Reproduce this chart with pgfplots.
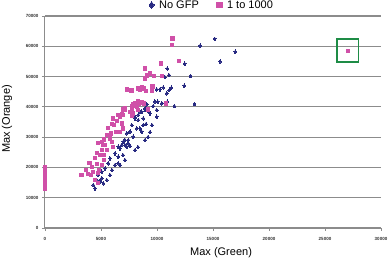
\documentclass[border=0pt]{standalone}
\usepackage{fontspec}
\setmainfont{Liberation Sans}
\usepackage{pgfplots}
\usepackage{pgfplotstable}
\pgfplotsset{compat=1.18}
\definecolor{nogfp}{RGB}{40,42,130}
\definecolor{pinkser}{RGB}{208,80,168}
\definecolor{gridgray}{RGB}{140,140,140}
\definecolor{boxgreen}{RGB}{30,140,70}

\pgfplotstableread{
x y
15150 62470
13840 60160
16990 58180
15630 54950
12470 54220
10920 52640
11070 50490
10710 49830
12990 50160
12440 46960
10560 46370
11100 45540
11280 46300
9970 45770
10270 45770
10870 44450
13350 40920
11550 40260
9820 41680
10060 41680
10420 41150
10920 41680
9080 40820
9670 40260
8930 39170
9220 38610
9970 38940
8630 38380
9380 37850
9970 36730
8330 37290
8040 36530
8930 39500
8480 38380
8040 36200
8330 35640
8780 36200
7740 33990
8480 32900
8630 31780
7590 31780
7300 31250
7880 30130
7440 29040
6990 28480
6850 27390
6540 26830
7300 26830
7590 27060
6700 26300
7140 27390
6250 24650
6540 23530
5800 23000
5650 21350
6700 20790
5360 19700
5060 18580
4760 17490
5060 16400
4620 15840
5510 15840
4310 14190
4460 13100
4910 15280
5210 14750
5800 17490
5980 19140
6250 20790
7140 22440
6960 24090
8040 25740
8300 26730
8930 29040
9200 30030
9380 31680
9550 33990
9020 34320
7140 29040
7440 27950
6540 21350
8190 32900
8780 33990
}\nogfp

\pgfplotstableread{
x y
11380 62600
11310 60390
11960 55210
10360 54350
8930 52700
9380 51050
9080 50330
8930 49400
10420 50160
7300 45770
7720 45380
8330 46100
8630 46630
8870 46100
8990 45210
9600 46760
9550 45380
8280 42010
8390 40920
8630 41350
8870 41150
8040 41150
7800 40260
7140 38940
7590 38380
7880 37850
8280 38940
6990 37290
6700 36730
7740 36960
9220 39170
10780 41150
6990 39170
8630 41680
8190 40030
7740 38940
7140 39500
6850 37620
6540 37290
6100 36200
6400 35410
5960 34320
6850 34550
6990 32900
6700 31780
6340 31780
5870 31250
5510 30690
5800 29600
5270 29270
5060 28480
4760 27950
5210 27390
5360 27390
5060 25740
4620 24650
4910 24090
4460 23000
4020 21350
4620 21120
5060 20790
4310 18580
4110 17490
3260 17490
4760 18050
4460 15840
4710 14750
3870 17720
3960 21350
7880 40920
8480 45770
9760 50160
9650 46860
6160 33990
5630 33000
5980 28380
5540 25740
5270 24090
6070 26730
5270 22440
4200 20130
3660 19140
4820 19140
0 13000
0 13400
0 13800
0 14200
0 14600
0 15000
0 15400
0 15800
0 16200
0 16600
0 17000
0 17500
0 18000
0 18500
0 19000
0 19500
0 20000
27030 58400
}\pinkdata

\begin{document}
\begin{tikzpicture}
\path[use as bounding box] (-45pt,-31pt) rectangle (345pt,228pt);
\begin{axis}[
  scale only axis, width=336pt, height=212pt,
  at={(0pt,0pt)}, anchor=south west,
  xmin=0, xmax=30000, ymin=0, ymax=70000,
  xtick={0,5000,...,30000}, ytick={0,10000,...,70000},
  axis x line*=bottom, axis y line*=left,
  axis line style={gridgray, line width=1pt, -},
  ymajorgrids, grid style={gridgray, line width=1.2pt},
  tick style={gridgray, line width=0.8pt}, tick align=outside,
  major tick length=3pt,
  ticklabel style={font=\fontsize{4.5}{5}\selectfont\bfseries, text=black!80},
  xticklabel style={yshift=-3pt},
  /pgf/number format/assume math mode=true,
  /pgf/number format/set thousands separator={},
  scaled ticks=false,
  clip=false,
  xlabel={Max (Green)}, ylabel={Max (Orange)},
  label style={font=\fontsize{11}{13}\selectfont},
  xlabel style={at={(axis description cs:0.524,-0.118)}, anchor=center},
  ylabel style={at={(axis description cs:-0.113,0.514)}, anchor=center},
  legend style={at={(axis description cs:0.497,1.052)}, anchor=center,
    draw=none, fill=none, font=\fontsize{11}{13}\selectfont,
    /tikz/every odd column/.append style={column sep=3pt},
    /tikz/every even column/.append style={column sep=16pt}},
  legend columns=2,
  legend image code/.code={\draw[#1] plot coordinates {(0pt,0pt)};},
]
\addplot[only marks, mark=diamond*, mark size=1.8pt,
  mark options={draw=nogfp, fill=nogfp, line width=0pt},
  legend image post style={mark size=3.4pt}] table[x=x,y=y] {\nogfp};
\addlegendentry{No GFP}
\addplot[only marks, mark=square*, mark size=1.65pt,
  mark options={draw=pinkser, fill=pinkser, line width=0pt},
  legend image post style={mark size=2.6pt}] table[x=x,y=y] {\pinkdata};
\addlegendentry{1 to 1000}
\draw[boxgreen, line width=1.5pt] (axis cs:26070,54880) rectangle (axis cs:27970,62380);
\end{axis}
\end{tikzpicture}
\end{document}
